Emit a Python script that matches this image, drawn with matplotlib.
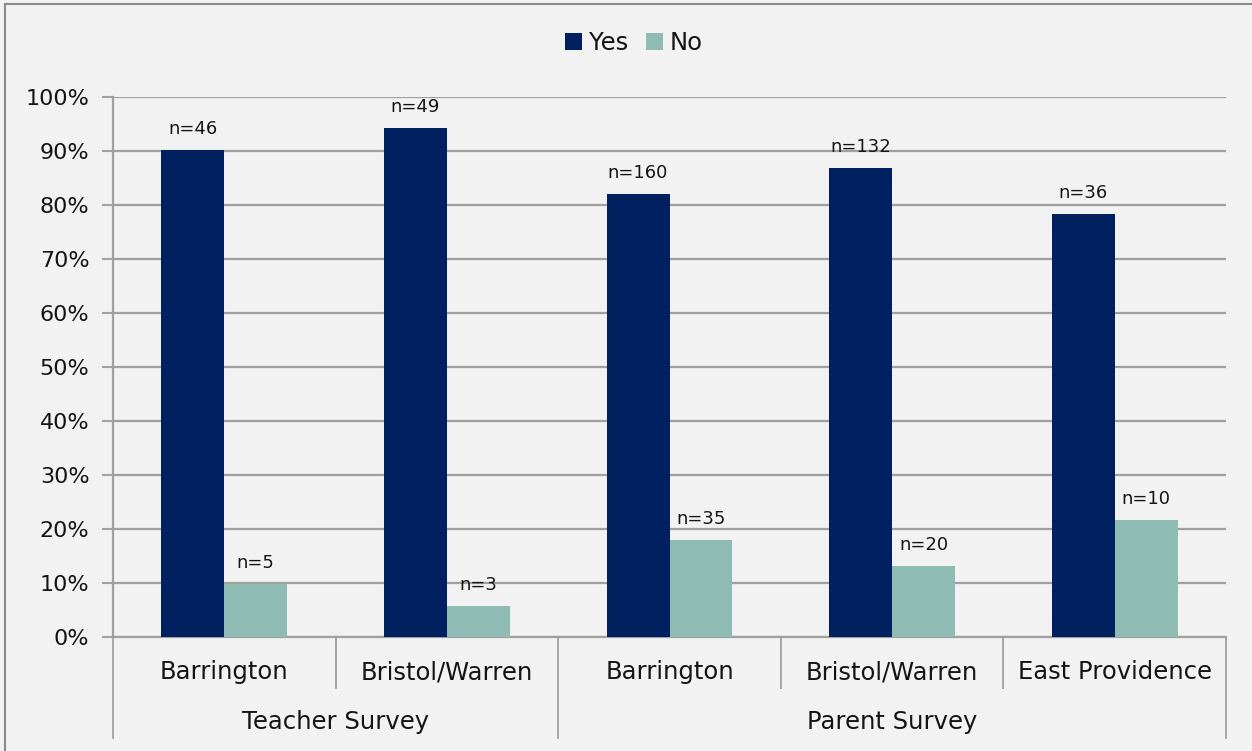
import matplotlib
matplotlib.use("Agg")
import matplotlib.pyplot as plt
from matplotlib.lines import Line2D
import numpy as np

groups = ["Teacher Survey", "Parent Survey"]
group_sizes = [2, 3]
categories = ["Barrington", "Bristol/Warren", "Barrington", "Bristol/Warren", "East Providence"]
yes_pct = [90.2, 94.2, 82.1, 86.8, 78.3]
no_pct = [9.8, 5.8, 17.9, 13.2, 21.7]
yes_n = [46, 49, 160, 132, 36]
no_n = [5, 3, 35, 20, 10]
yticks = [0, 10, 20, 30, 40, 50, 60, 70, 80, 90, 100]

YES_C = "#002060"
NO_C = "#8FBBB5"
BG = "#F2F2F2"
GRID = "#A0A0A0"
TXT = "#141414"

plt.rcParams['font.family'] = ['DejaVu Sans']

fig = plt.figure(figsize=(12.52, 7.51), dpi=100, facecolor=BG)
ax = fig.add_axes([113/1252, 1-637/751, (1226-113)/1252, 540/751])
ax.set_facecolor(BG)

x = np.arange(len(categories)) + 0.5
w = 0.283
ax.bar(x - w/2, yes_pct, width=w, color=YES_C, label="Yes", zorder=3)
ax.bar(x + w/2, no_pct, width=w, color=NO_C, label="No", zorder=3)

for xi, v, n in zip(x - w/2, yes_pct, yes_n):
    ax.text(xi, v + 2.2, f"n={n}", ha="center", va="bottom", fontsize=13, color=TXT)
for xi, v, n in zip(x + w/2, no_pct, no_n):
    ax.text(xi, v + 2.2, f"n={n}", ha="center", va="bottom", fontsize=13, color=TXT)

ax.set_xlim(0, len(categories))
ax.set_ylim(0, 100)
ax.set_yticks(yticks)
ax.set_yticklabels([f"{t}%" for t in yticks], fontsize=16, color=TXT)
ax.yaxis.grid(True, color=GRID, linewidth=1.6, zorder=0)
ax.set_axisbelow(True)
ax.tick_params(axis='y', length=8, width=1.5, color=GRID, pad=9)
ax.set_xticks([])
for s in ["top", "right"]:
    ax.spines[s].set_visible(False)
for s in ["left", "bottom"]:
    ax.spines[s].set_color(GRID)
    ax.spines[s].set_linewidth(1.6)

tr = ax.get_xaxis_transform()
# category labels and separators
for i, c in enumerate(categories):
    ax.text(i + 0.5, -0.065, c, transform=tr, ha="center", va="center", fontsize=17.5, color=TXT)
bounds = np.concatenate([[0], np.cumsum(group_sizes)])
for i in range(len(categories) + 1):
    if i in bounds:
        y1 = -0.187
    else:
        y1 = -0.094
    ax.add_line(Line2D([i, i], [0, y1], transform=tr, color=GRID, linewidth=1.3, clip_on=False))
for g, a, b in zip(groups, bounds[:-1], bounds[1:]):
    ax.text((a + b) / 2, -0.157, g, transform=tr, ha="center", va="center", fontsize=17.5, color=TXT)

leg = fig.legend(loc="center", bbox_to_anchor=(634/1252, 1-43/751), ncol=2, frameon=False,
                 fontsize=17.5, handlelength=0.7, handleheight=0.7, handletextpad=0.3,
                 columnspacing=0.7)
for t in leg.get_texts():
    t.set_color(TXT)

# outer frame
fig.add_artist(Line2D([5/1252, 5/1252], [0, 1-4/751], transform=fig.transFigure, color="#8a8a8a", linewidth=1.5))
fig.add_artist(Line2D([5/1252, 1], [1-4/751, 1-4/751], transform=fig.transFigure, color="#8a8a8a", linewidth=1.5))

fig.savefig("out.png", dpi=100, facecolor=BG)
